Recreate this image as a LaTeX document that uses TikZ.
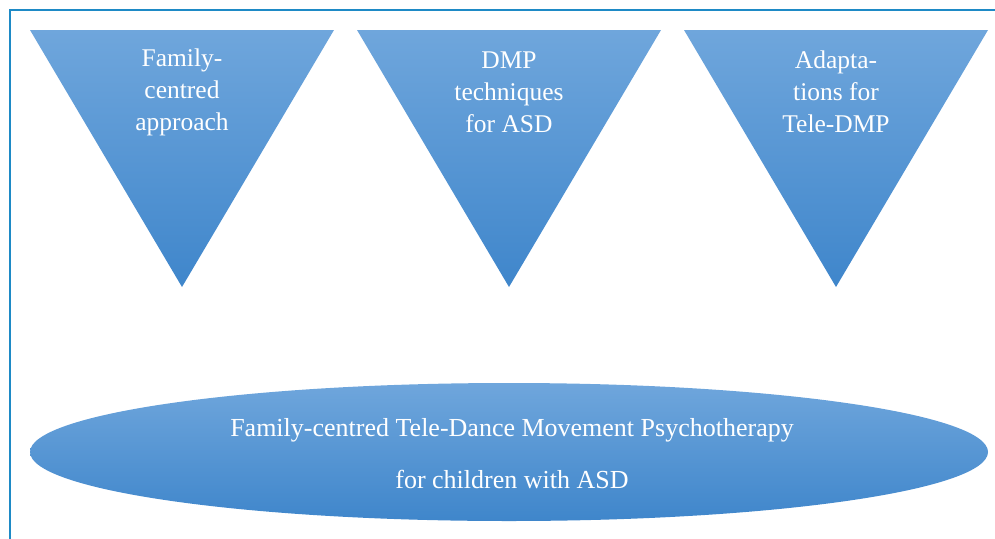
\documentclass[tikz,border=0pt]{standalone}
\usepackage{fontspec}
\setmainfont{Liberation Serif}
\usetikzlibrary{shapes.geometric}
\definecolor{frameblue}{HTML}{1E8AC6}
\definecolor{shtop}{HTML}{6FA6DC}
\definecolor{shbot}{HTML}{3F86CB}
\tikzset{
  tri/.style={top color=shtop, bottom color=shbot, draw=none},
  tritext/.style={text=white, align=center, font=\fontsize{25.5}{32}\selectfont, inner sep=0pt},
  elltext/.style={text=white, align=center, font=\fontsize{26}{52}\selectfont, inner sep=0pt},
  frame/.style={draw=frameblue, line width=2.5pt}
}
\begin{document}
\begin{tikzpicture}[x=1pt,y=-1pt]
\useasboundingbox (0,0) rectangle (995,538);
\draw[frame] (10,540) -- (10,10) -- (997,10);
\shade[tri] (30,30) -- (334,30) -- (182,287) -- cycle;
\shade[tri] (357,30) -- (661,30) -- (509,287) -- cycle;
\shade[tri] (684,30) -- (988,30) -- (836,287) -- cycle;
\node[tritext] (t1) at (182,92) {Family-\\centred\\approach};
\node[tritext] (t2) at (509,92) {DMP\\techniques\\for ASD};
\node[tritext] (t3) at (836,92) {Adapta-\\tions for\\Tele-DMP};
\shade[tri] (509,452) ellipse [x radius=479, y radius=69];
\node[elltext] (e) at (512,454) {Family-centred Tele-Dance Movement Psychotherapy\\for children with ASD};
\end{tikzpicture}
\end{document}
